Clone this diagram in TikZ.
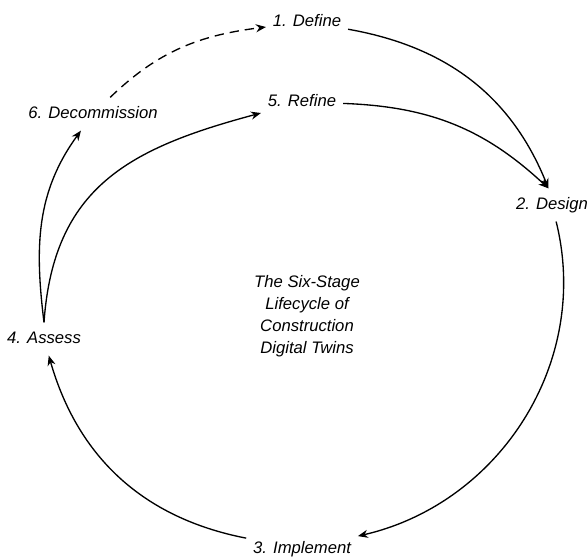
\documentclass[tikz,border=0pt]{standalone}
\usepackage{fontspec}
\setmainfont{Liberation Sans}
\usetikzlibrary{arrows.meta}

\begin{document}
\begin{tikzpicture}[x=0.75pt,y=0.75pt,>={Stealth[length=7.5pt,width=6pt,inset=2.4pt]},font=\itshape\fontsize{12.5}{16.5}\selectfont]
\tikzset{
  stage/.style={inner xsep=5pt,inner ysep=6.5pt,text height=9pt,text depth=2.5pt},
  flow/.style={->,line width=1pt},
  retire/.style={flow,dash pattern=on 7pt off 4.5pt}
}
\useasboundingbox (0,0) rectangle (587,557);
% stages round the loop
\node[stage] (define)    at (307,535) {1. Define};
\node[stage] (design)    at (552,352) {2. Design};
\node[stage] (implement) at (302,8)   {3. Implement};
\node[stage] (assess)    at (44,218)  {4. Assess};
\node[stage] (refine)    at (302,455) {5. Refine};
\node[stage] (decom)     at (93,443)  {6. Decommission};
% title in the middle
\node[align=center] (title) at (307,241) {The Six-Stage\\Lifecycle of\\Construction\\Digital Twins};

% main cycle
\draw[flow] (define) to[out=-10,in=112] (design.102);
\draw[flow] (design) to[out=-76,in=13] (implement);
\draw[flow] (implement) to[out=169,in=-74] (assess);
% the two ways out of assessment
\draw[flow] (assess.north) to[out=97,in=234] (decom);
\draw[flow] (assess.north) to[out=86,in=195,looseness=1.15] (refine);
\draw[flow] (refine) to[out=-2,in=137] (design.102);
% end of life
\draw[retire] (decom) to[out=44,in=187] (define);
\end{tikzpicture}
\end{document}
